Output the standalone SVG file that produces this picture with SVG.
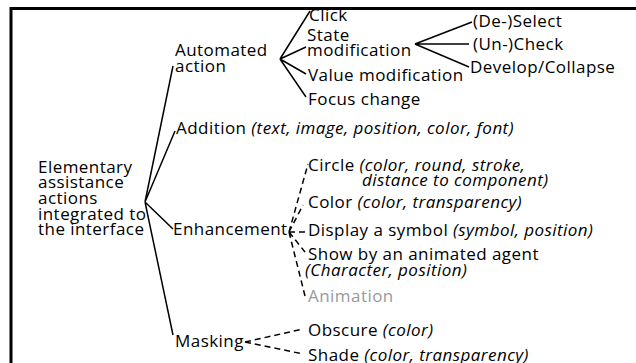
<svg xmlns="http://www.w3.org/2000/svg" width="636" height="363" viewBox="0 0 636 363">
<style>
text{font-family:"Open Sans","Noto Sans","Liberation Sans",sans-serif;font-size:17px;letter-spacing:0.45px;fill:#000}
.i{font-style:italic}
.g{fill:#999}
.l{stroke:#000;stroke-width:1.5;fill:none}
.d{stroke:#000;stroke-width:1.5;fill:none;stroke-dasharray:6 4}
</style>
<rect width="636" height="363" fill="#fff"/>
<path d="M11 363V8.5H636" stroke="#000" stroke-width="3" fill="none"/>
<g id="connectors">
<path class="l" d="M145 202L173 66M145 202L175 131M145 202L173 229M145 202L173 335"/>
<path class="l" d="M280 59L310 11M280 59L306 47M280 59L306 74M280 59L306 97"/>
<path class="l" d="M415 44L472 22M415 44L469 44M415 44L469 67"/>
<path class="d" d="M289 232L308 164M289 232L303 205M289 232L306 232M289 232L305 252M289 232L305 296"/>
<path class="d" d="M245 342L303 329M245 342L303 354"/>
</g>
<g id="root"><text x="38" y="172.5">Elementary</text><text x="38" y="188.2">assistance</text><text x="38" y="203.9">actions</text><text x="38" y="219.6">integrated to</text><text x="38" y="235.3">the interface</text></g>
<g id="automated"><text x="175" y="56">Automated</text><text x="175" y="72">action</text></g>
<g id="click"><text x="309" y="21">Click</text></g>
<g id="state"><text x="307" y="40.5">State</text><text x="307" y="56">modification</text></g>
<g id="select"><text x="473" y="27">(De-)Select</text></g>
<g id="check"><text x="473" y="50">(Un-)Check</text></g>
<g id="develop"><text x="470" y="73">Develop/Collapse</text></g>
<g id="value"><text x="308" y="81">Value modification</text></g>
<g id="focus"><text x="308" y="105">Focus change</text></g>
<g id="addition"><text x="176" y="133.5">Addition <tspan class="i">(text, image, position, color, font)</tspan></text></g>
<g id="enhancement"><text x="173" y="235">Enhancement</text></g>
<g id="circle"><text x="308" y="171">Circle <tspan class="i">(color, round, stroke,</tspan></text><text class="i" x="362" y="185.5">distance to component)</text></g>
<g id="color"><text x="308" y="208">Color <tspan class="i">(color, transparency)</tspan></text></g>
<g id="symbol"><text x="308" y="236">Display a symbol <tspan class="i">(symbol, position)</tspan></text></g>
<g id="agent"><text x="308" y="260">Show by an animated agent</text><text class="i" x="305" y="275.5">(Character, position)</text></g>
<g id="animation"><text class="g" x="308" y="302">Animation</text></g>
<g id="masking"><text x="175" y="347">Masking</text></g>
<g id="obscure"><text x="308" y="336">Obscure <tspan class="i">(color)</tspan></text></g>
<g id="shade"><text x="308" y="361">Shade <tspan class="i">(color, transparency)</tspan></text></g>
</svg>
